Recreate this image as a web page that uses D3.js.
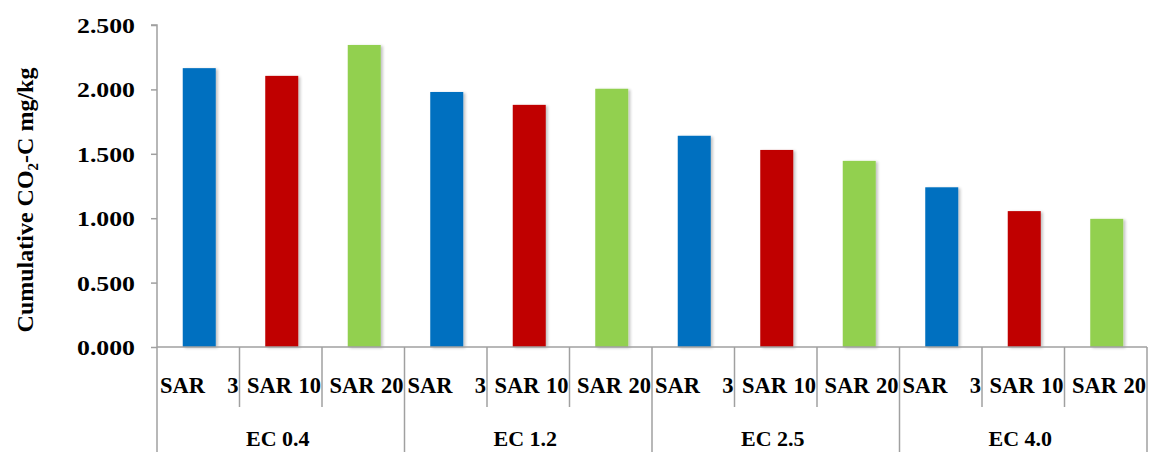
<!DOCTYPE html>
<html><head><meta charset="utf-8">
<script src="https://cdn.jsdelivr.net/npm/d3@7"></script>
<style>body{margin:0;background:#fff}svg{display:block}text{font-family:"Liberation Serif","Times New Roman",serif;font-weight:bold;fill:#000}</style>
</head><body><svg id="c" width="1149" height="452"></svg>
<script>
const groups = ["EC 0.4", "EC 1.2", "EC 2.5", "EC 4.0"];
const series = ["SAR 3", "SAR 10", "SAR 20"];
const colors = ["#0070C0", "#C00000", "#92D050"];
const values = [
  [2.165, 2.105, 2.345],
  [1.980, 1.880, 2.005],
  [1.640, 1.530, 1.445],
  [1.240, 1.055, 0.995]
];
const yTicks = [0, 0.5, 1.0, 1.5, 2.0, 2.5];

const svg = d3.select("#c");
const L = 157, R = 1147, T = 25, B = 347;
const cells = [];
groups.forEach((g, gi) => series.forEach((s, si) => cells.push({g, gi, s, si, v: values[gi][si]})));

const x = d3.scaleBand().domain(cells.map((d, i) => i)).range([L, R]).paddingInner(0).paddingOuter(0);
const y = d3.scaleLinear().domain([0, 2.5]).range([B, T]);
const grey = "#a0a0a0";

const defs = svg.append("defs");
const f = defs.append("filter").attr("id", "sh").attr("x", "-20%").attr("y", "-5%").attr("width", "150%").attr("height", "110%");
f.append("feGaussianBlur").attr("in", "SourceAlpha").attr("stdDeviation", 1.5).attr("result", "b");
f.append("feOffset").attr("in", "b").attr("dx", 2).attr("dy", 1).attr("result", "o");
f.append("feComponentTransfer").attr("in", "o").attr("result", "o2").append("feFuncA").attr("type", "linear").attr("slope", 0.25);
const m = f.append("feMerge"); m.append("feMergeNode").attr("in", "o2"); m.append("feMergeNode").attr("in", "SourceGraphic");

// bars
const bw = x.bandwidth() * 0.4;
svg.append("g").selectAll("rect").data(cells).join("rect")
  .attr("x", (d, i) => x(i) + (x.bandwidth() - bw) / 2 + 1)
  .attr("width", bw)
  .attr("y", d => y(d.v))
  .attr("height", d => y(0) - y(d.v))
  .attr("fill", d => colors[d.si])
  .attr("filter", "url(#sh)");

// y axis
const yAxis = d3.axisLeft(y).tickValues(yTicks).tickFormat(d3.format(".3f")).tickSize(6).tickPadding(16);
const ya = svg.append("g").attr("transform", `translate(${L},0)`).call(yAxis);
ya.select(".domain").attr("stroke", grey).attr("stroke-width", 1.5).attr("d", `M-6,${T}H0V${B}`);
ya.selectAll(".tick line").attr("stroke", grey).attr("stroke-width", 1.5);
ya.selectAll(".tick text").attr("font-size", 22).attr("font-family", "Liberation Serif").attr("font-weight", "bold")
  .attr("fill", "#000").attr("textLength", 58).attr("lengthAdjust", "spacingAndGlyphs").attr("dy", "0.34em");

// x axis line
svg.append("line").attr("x1", L).attr("x2", R).attr("y1", B).attr("y2", B).attr("stroke", grey).attr("stroke-width", 1.5);
// dividers
const divs = d3.range(cells.length + 1);
svg.append("g").selectAll("line").data(divs).join("line")
  .attr("x1", i => i < cells.length ? x(i) : R).attr("x2", i => i < cells.length ? x(i) : R)
  .attr("y1", B).attr("y2", i => i % 3 === 0 ? 452 : 407)
  .attr("stroke", grey).attr("stroke-width", 1.5);

// series labels (justified within cell)
const lab = svg.append("g");
cells.forEach((d, i) => {
  const parts = d.s.split(" ");
  const x0 = x(i), x1 = x(i) + x.bandwidth();
  lab.append("text").attr("x", x1 - 1).attr("y", 393).attr("text-anchor", "end").attr("font-size", 22.5).text(parts[1]);
  const w = lab.append("text").attr("y", 393).attr("font-size", 22.5).text(parts[0]);
  if (parts[1].length === 1) w.attr("text-anchor", "start").attr("x", x0 + 3);
  else w.attr("text-anchor", "end").attr("x", x1 - 30);
});

// group labels
svg.append("g").selectAll("text").data(groups).join("text")
  .attr("x", (g, gi) => (x(gi * 3) + (gi * 3 + 3 < cells.length ? x(gi * 3 + 3) : R)) / 2 - 3)
  .attr("y", 446).attr("text-anchor", "middle").attr("font-size", 22).text(d => d);

// y title
const yt = svg.append("text").attr("transform", "translate(33,200) rotate(-90)").attr("text-anchor", "middle").attr("font-size", 24);
yt.append("tspan").text("Cumulative CO");
yt.append("tspan").attr("font-size", 15).attr("dy", 5).text("2");
yt.append("tspan").attr("dy", -5).text("-C mg/kg");
</script></body></html>
